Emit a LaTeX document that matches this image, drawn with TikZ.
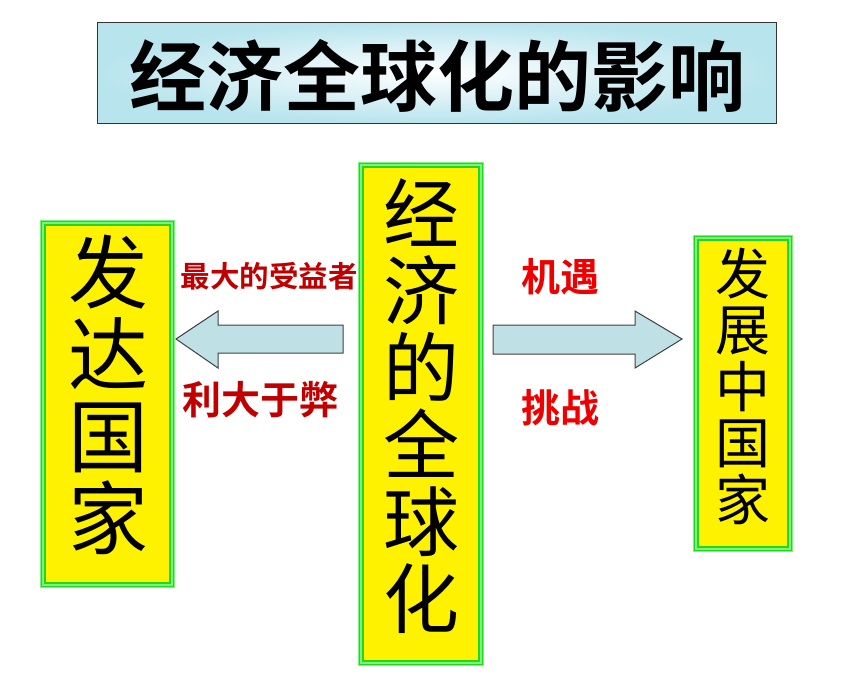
\documentclass[tikz,border=0pt]{standalone}
\usepackage{fontspec}
\newfontfamily\cjk{Noto Sans CJK SC}[BoldFont={Noto Sans CJK SC Bold}]
\begin{document}
\begin{tikzpicture}[x=1pt,y=-1pt,
  vtext/.style={font=\cjk, text=black, align=center, inner sep=0pt},
  barrow/.style={draw=black!75, line width=1pt},
  redlbl/.style={font=\cjk\bfseries, inner sep=0pt}
]
\useasboundingbox (0,0) rectangle (861,678);
\definecolor{darkred}{HTML}{C00000}
\definecolor{brightred}{HTML}{EE0000}
\definecolor{arrowfill}{HTML}{BFE1E6}
\definecolor{lightgreen}{HTML}{7CF27C}
\definecolor{midgreen}{HTML}{22D622}
\definecolor{titleedge}{HTML}{B8E4EE}

% title
\shade[inner color=white, outer color=titleedge] (97,22) rectangle (776,123);
\draw[black!80, line width=1pt] (97,22) rectangle (776,123);
\node[font=\cjk\bfseries\fontsize{77}{77}\selectfont, inner sep=0pt] (title) at (437,76) {经济全球化的影响};

% boxes
\foreach \nm/\xa/\ya/\xb/\yb in {L/40/220/175/588, M/358/162/484/666, R/693/235/793/552}{
  \fill[yellow] (\xa,\ya) rectangle (\xb,\yb);
  \draw[lightgreen, line width=6pt] ([shift={(3,3)}]\xa,\ya) rectangle ([shift={(-3,-3)}]\xb,\yb);
  \draw[midgreen, line width=1.5pt] ([shift={(1.5,1.5)}]\xa,\ya) rectangle ([shift={(-1.5,-1.5)}]\xb,\yb);
  \draw[midgreen, line width=1.5pt] ([shift={(5,5)}]\xa,\ya) rectangle ([shift={(-5,-5)}]\xb,\yb);
}
\node[vtext, font=\cjk\fontsize{80}{82}\selectfont] (dev) at (108,395) {发\\达\\国\\家};
\node[vtext, font=\cjk\fontsize{76}{77}\selectfont] (glob) at (421,406) {经\\济\\的\\全\\球\\化};
\node[vtext, font=\cjk\fontsize{55}{56.5}\selectfont] (devg) at (743,386) {发\\展\\中\\国\\家};

% arrows
\coordinate (lt) at (176,339);
\coordinate (rt) at (682,339);
\draw[barrow, fill=arrowfill] (lt) -- (218,311) -- (218,325) -- (343,325) -- (343,353) -- (218,353) -- (218,368) -- cycle;
\draw[barrow, fill=arrowfill] (rt) -- (635,311) -- (635,325) -- (493,325) -- (493,354) -- (635,354) -- (635,368) -- cycle;

% labels
\node[redlbl, text=darkred, font=\cjk\bfseries\fontsize{29.5}{30}\selectfont] (l1) at (269,276) {最大的受益者};
\node[redlbl, text=darkred, font=\cjk\bfseries\fontsize{39}{40}\selectfont] (l2) at (260,400) {利大于弊};
\node[redlbl, text=brightred, font=\cjk\bfseries\fontsize{39}{40}\selectfont] (r1) at (560,277) {机遇};
\node[redlbl, text=brightred, font=\cjk\bfseries\fontsize{39}{40}\selectfont] (r2) at (560,408) {挑战};
\end{tikzpicture}
\end{document}
